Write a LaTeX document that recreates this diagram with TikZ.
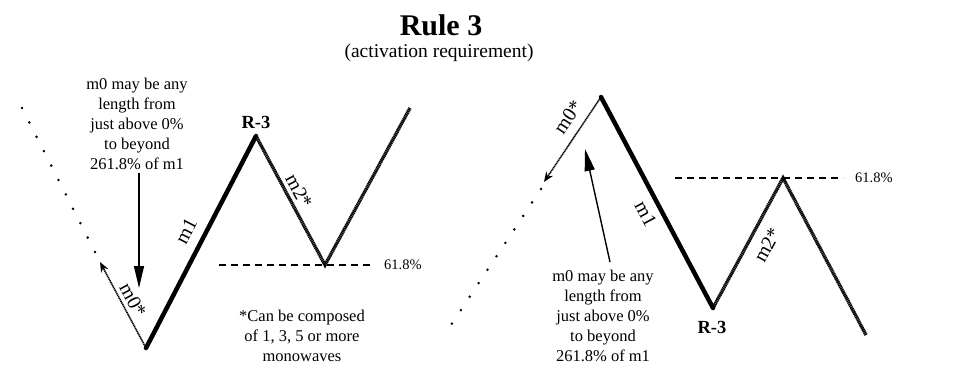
\documentclass[tikz,border=0pt]{standalone}
\usepackage{fontspec}
\setmainfont{Liberation Serif}
\usetikzlibrary{arrows.meta}
\begin{document}
\begin{tikzpicture}[x=1pt,y=-1pt,
  thickline/.style={line width=4.5pt, line cap=round},
  hatch/.style={line width=3.4pt, dash pattern=on 1.3pt off 0.5pt},
  thindot/.style={line width=1.6pt, dash pattern=on 1.2pt off 0.6pt},
  sparse/.style={line width=2.8pt, line cap=round, dash pattern=on 0pt off 16.14pt},
  fib/.style={line width=1.6pt, dash pattern=on 7pt off 5pt},
  txt/.style={font=\fontsize{16.5}{20}\selectfont, align=center, inner sep=0pt},
  lbl/.style={font=\fontsize{20}{22}\selectfont, inner sep=0pt},
  pct/.style={font=\fontsize{14.5}{17}\selectfont, inner sep=0pt},
  rlab/.style={font=\bfseries\fontsize{18.5}{20}\selectfont, inner sep=0pt},
  pointer/.style={line width=1.4pt, -{Triangle[length=22pt,width=10pt]}},
  m0tip/.style={-{Stealth[length=10pt,width=8pt]}},
]
\useasboundingbox (0,0) rectangle (955,365);
% title
\node[font=\bfseries\fontsize{30}{34}\selectfont, anchor=base] (title) at (441,35) {Rule 3};
\node[font=\fontsize{19.5}{22}\selectfont, anchor=base] (sub) at (439,57) {(activation requirement)};

% ---------------- left diagram
\coordinate (LS) at (22,108);
\coordinate (LSe) at (95,252);
\coordinate (LA) at (100,262);
\coordinate (LB) at (146,348);
\coordinate (LP) at (256,136);
\coordinate (LC) at (325,265);
\coordinate (LE) at (410,108);
\coordinate (LF1) at (219,265);
\coordinate (LF2) at (371,265);
\coordinate (LVa) at (139,173);
\coordinate (LVb) at (139,288);

\draw[sparse] (LS) -- (LSe);
\draw[thindot, m0tip] (LB) -- (LA);
\draw[thickline] (LB) -- (LP);
\draw[hatch] (LP) -- (LC) -- (LE);
\draw[fib] (LF1) -- (LF2);
\draw[pointer] (LVa) -- (LVb);

\node[pct, anchor=west] (lpct) at (384,265) {61.8\%};
\node[rlab] (lr3) at (256,122) {R-3};
\node[lbl, rotate=62.6] (lm1) at (186,231) {m1};
\node[lbl, rotate=-62] (lm2) at (299,191) {m2*};
\node[lbl, rotate=-62] (lm0) at (133,300) {m0*};
\node[txt] (ltext) at (137,124) {m0 may be any\\length from\\just above 0\%\\to beyond\\261.8\% of m1};
\node[txt] (note) at (302,336) {*Can be composed\\of 1, 3, 5 or more\\monowaves};

% ---------------- right diagram
\coordinate (RP) at (601,97);
\coordinate (RA) at (544,182);
\coordinate (RS) at (541,189);
\coordinate (RSe) at (443,337);
\coordinate (RB) at (713,308);
\coordinate (RC) at (783,178);
\coordinate (RE) at (866,335);
\coordinate (RF1) at (675,178);
\coordinate (RF2) at (843,178);
\coordinate (RVa) at (610,262);
\coordinate (RVb) at (585,149);

\draw[sparse] (RS) -- (RSe);
\draw[thindot, m0tip] (RP) -- (RA);
\draw[thickline] (RP) -- (RB);
\draw[hatch] (RB) -- (RC) -- (RE);
\draw[fib] (RF1) -- (RF2);
\draw[pointer] (RVa) -- (RVb);

\node[pct, anchor=west] (rpct) at (855,178) {61.8\%};
\node[rlab] (rr3) at (712,327) {R-3};
\node[lbl, rotate=-62] (rm1) at (646,214) {m1};
\node[lbl, rotate=61.5] (rm2) at (767,245) {m2*};
\node[lbl, rotate=56] (rm0) at (568,117) {m0*};
\node[txt] (rtext) at (603,316) {m0 may be any\\length from\\just above 0\%\\to beyond\\261.8\% of m1};
\end{tikzpicture}
\end{document}
